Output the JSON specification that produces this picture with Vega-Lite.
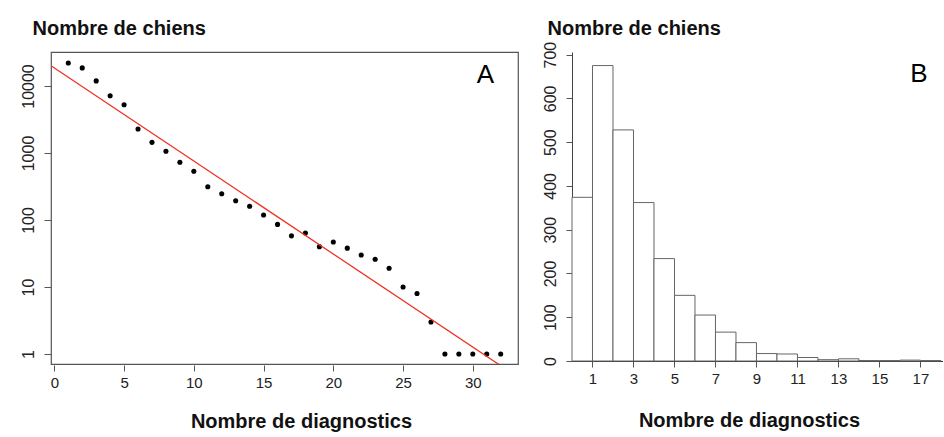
{
  "$schema": "https://vega.github.io/schema/vega-lite/v6.json",
  "padding": {"left": 19, "top": 17, "right": 0, "bottom": 0},
  "spacing": 23,
  "background": "white",
  "config": {
    "font": "Liberation Sans",
    "view": {"stroke": null},
    "axis": {
      "grid": false,
      "labelFont": "Liberation Sans",
      "labelFontSize": 15,
      "labelColor": "#222",
      "titleFont": "Liberation Sans",
      "titleFontSize": 20,
      "titleFontWeight": "bold",
      "titleColor": "#111",
      "tickColor": "#555",
      "domainColor": "#444"
    }
  },
  "datasets": {
    "points": [
      {"diagnostics": 1, "chiens": 22000}, {"diagnostics": 2, "chiens": 18600},
      {"diagnostics": 3, "chiens": 11900}, {"diagnostics": 4, "chiens": 7160},
      {"diagnostics": 5, "chiens": 5260}, {"diagnostics": 6, "chiens": 2280},
      {"diagnostics": 7, "chiens": 1440}, {"diagnostics": 8, "chiens": 1060},
      {"diagnostics": 9, "chiens": 727}, {"diagnostics": 10, "chiens": 533},
      {"diagnostics": 11, "chiens": 314}, {"diagnostics": 12, "chiens": 247},
      {"diagnostics": 13, "chiens": 194}, {"diagnostics": 14, "chiens": 160},
      {"diagnostics": 15, "chiens": 119}, {"diagnostics": 16, "chiens": 86},
      {"diagnostics": 17, "chiens": 58}, {"diagnostics": 18, "chiens": 64},
      {"diagnostics": 19, "chiens": 40}, {"diagnostics": 20, "chiens": 47},
      {"diagnostics": 21, "chiens": 38}, {"diagnostics": 22, "chiens": 30},
      {"diagnostics": 23, "chiens": 26}, {"diagnostics": 24, "chiens": 19},
      {"diagnostics": 25, "chiens": 10}, {"diagnostics": 26, "chiens": 8},
      {"diagnostics": 27, "chiens": 3}, {"diagnostics": 28, "chiens": 1},
      {"diagnostics": 29, "chiens": 1}, {"diagnostics": 30, "chiens": 1},
      {"diagnostics": 31, "chiens": 1}, {"diagnostics": 32, "chiens": 1}
    ],
    "fit": [
      {"diagnostics": -0.24, "chiens": 20090},
      {"diagnostics": 33.24, "chiens": 0.45}
    ],
    "labelA": [{"diagnostics": 30.9, "chiens": 10970, "label": "A"}],
    "hist": [
      {"debut": 0, "fin": 1, "chiens": 374}, {"debut": 1, "fin": 2, "chiens": 675},
      {"debut": 2, "fin": 3, "chiens": 528}, {"debut": 3, "fin": 4, "chiens": 362},
      {"debut": 4, "fin": 5, "chiens": 234}, {"debut": 5, "fin": 6, "chiens": 150},
      {"debut": 6, "fin": 7, "chiens": 105}, {"debut": 7, "fin": 8, "chiens": 66},
      {"debut": 8, "fin": 9, "chiens": 42}, {"debut": 9, "fin": 10, "chiens": 17},
      {"debut": 10, "fin": 11, "chiens": 16}, {"debut": 11, "fin": 12, "chiens": 8},
      {"debut": 12, "fin": 13, "chiens": 3}, {"debut": 13, "fin": 14, "chiens": 5},
      {"debut": 14, "fin": 15, "chiens": 1}, {"debut": 15, "fin": 16, "chiens": 1},
      {"debut": 16, "fin": 17, "chiens": 2}, {"debut": 17, "fin": 18, "chiens": 1}
    ],
    "labelB": [{"debut": 16.92, "chiens": 637, "label": "B"}]
  },
  "hconcat": [
    {
      "width": 467,
      "height": 312,
      "view": {"stroke": "#555", "strokeWidth": 1.2},
      "layer": [
        {
          "data": {"name": "points"},
          "mark": {"type": "point", "filled": true, "color": "black", "size": 26, "opacity": 1},
          "encoding": {
            "x": {
              "field": "diagnostics", "type": "quantitative",
              "scale": {"domain": [-0.24, 33.24], "nice": false, "zero": false},
              "axis": {
                "values": [0, 5, 10, 15, 20, 25, 30],
                "title": "Nombre de diagnostics",
                "domain": false, "tickSize": 6, "offset": 1, "labelPadding": 4,
                "titleX": 250, "titleY": 62, "titleBaseline": "alphabetic", "titleAlign": "center"
              }
            },
            "y": {
              "field": "chiens", "type": "quantitative",
              "scale": {"type": "log", "domain": [0.709, 32150], "nice": false},
              "axis": {
                "values": [1, 10, 100, 1000, 10000], "format": "d",
                "title": "Nombre de chiens",
                "domain": false, "tickSize": 7, "labelFontSize": 16,
                "labelAngle": -90, "labelAlign": "center", "labelBaseline": "bottom", "labelPadding": 8,
                "titleAngle": 0, "titleAlign": "left", "titleBaseline": "alphabetic",
                "titleX": -19, "titleY": -18
              }
            }
          }
        },
        {
          "data": {"name": "fit"},
          "mark": {"type": "line", "color": "#ee3322", "strokeWidth": 1.3, "clip": true},
          "encoding": {
            "x": {"field": "diagnostics", "type": "quantitative"},
            "y": {"field": "chiens", "type": "quantitative"}
          }
        },
        {
          "data": {"name": "labelA"},
          "mark": {"type": "text", "fontSize": 26, "align": "center", "baseline": "alphabetic", "color": "black"},
          "encoding": {
            "x": {"field": "diagnostics", "type": "quantitative"},
            "y": {"field": "chiens", "type": "quantitative"},
            "text": {"field": "label"}
          }
        }
      ]
    },
    {
      "width": 371,
      "height": 309,
      "layer": [
        {
          "data": {"name": "hist"},
          "mark": {"type": "bar", "fill": "white", "stroke": "#666", "strokeWidth": 1},
          "encoding": {
            "x": {
              "field": "debut", "type": "quantitative",
              "scale": {"domain": [0, 18.1], "nice": false, "zero": false},
              "axis": {
                "values": [1, 2, 3, 4, 5, 6, 7, 8, 9, 10, 11, 12, 13, 14, 15, 16, 17, 18],
                "labelExpr": "datum.value % 2 == 1 ? datum.label : ''",
                "title": "Nombre de diagnostics",
                "tickSize": 6, "labelPadding": 4, "domainColor": "#333",
                "titleX": 177, "titleY": 65, "titleBaseline": "alphabetic", "titleAlign": "center"
              }
            },
            "x2": {"field": "fin"},
            "y": {
              "field": "chiens", "type": "quantitative",
              "scale": {"domain": [0, 706], "nice": false},
              "axis": {
                "values": [0, 100, 200, 300, 400, 500, 600, 700],
                "title": "Nombre de chiens",
                "tickSize": 6, "labelFontSize": 16,
                "labelAngle": -90, "labelAlign": "center", "labelBaseline": "bottom", "labelPadding": 8,
                "titleAngle": 0, "titleAlign": "left", "titleBaseline": "alphabetic",
                "titleX": -25, "titleY": -18
              }
            },
            "y2": {"datum": 0}
          }
        },
        {
          "data": {"name": "labelB"},
          "mark": {"type": "text", "fontSize": 26, "align": "center", "baseline": "alphabetic", "color": "black"},
          "encoding": {
            "x": {"field": "debut", "type": "quantitative"},
            "y": {"field": "chiens", "type": "quantitative"},
            "text": {"field": "label"}
          }
        }
      ]
    }
  ]
}
